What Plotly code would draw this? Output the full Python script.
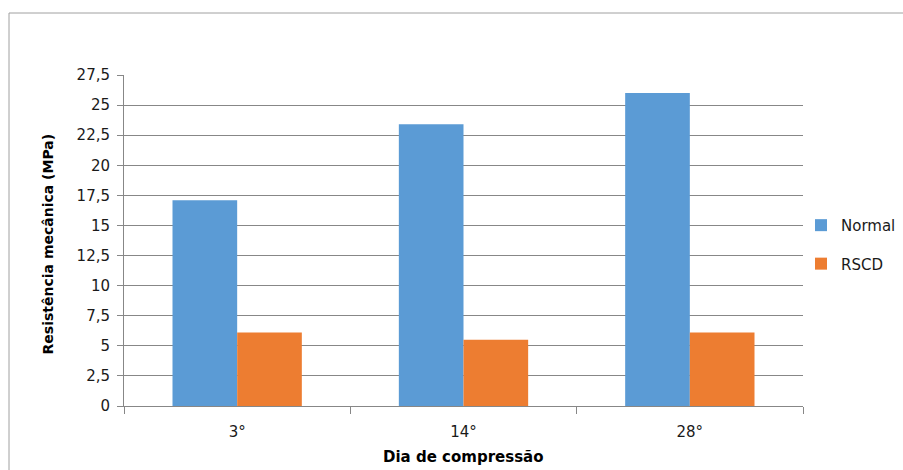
import plotly.graph_objects as go

# Compressive strength by curing day
dias = ["3°", "14°", "28°"]
normal = [17.1, 23.4, 26.0]
rscd = [6.1, 5.5, 6.1]

y_ticks = [0, 2.5, 5, 7.5, 10, 12.5, 15, 17.5, 20, 22.5, 25, 27.5]
y_tick_text = ["0", "2,5", "5", "7,5", "10", "12,5", "15", "17,5", "20", "22,5", "25", "27,5"]

FONT = "DejaVu Sans"
GRID = "#878787"

fig = go.Figure()
fig.add_trace(go.Bar(x=dias, y=normal, name="Normal", marker_color="#5B9BD5",
                     marker_line_width=0, legendgroup="a"))
fig.add_trace(go.Bar(x=dias, y=rscd, name="RSCD", marker_color="#ED7D31",
                     marker_line_width=0, legendgroup="b"))

fig.update_layout(
    width=903, height=470,
    margin=dict(l=124, r=100, t=75, b=64, autoexpand=False),
    paper_bgcolor="white", plot_bgcolor="white",
    barmode="group", bargap=0.4286, bargroupgap=0,
    font=dict(family=FONT, size=15, color="#1a1a1a"),
    showlegend=True,
    legend=dict(xref="container", yref="container", x=801 / 903, y=0.48,
                xanchor="left", yanchor="middle", traceorder="grouped",
                tracegroupgap=16, itemwidth=30,
                font=dict(family=FONT, size=15, color="#1a1a1a"),
                bgcolor="rgba(0,0,0,0)"),
    xaxis=dict(showline=True, linecolor=GRID, linewidth=1,
               ticks="outside", ticklen=7, tickcolor=GRID, tickson="boundaries",
               ticklabelstandoff=12, showgrid=False,
               tickfont=dict(family=FONT, size=15, color="#1a1a1a")),
    yaxis=dict(range=[0, 27.5], tickvals=y_ticks, ticktext=y_tick_text,
               showline=True, linecolor=GRID, linewidth=1,
               ticks="outside", ticklen=6, tickcolor=GRID,
               showgrid=True, gridcolor=GRID, gridwidth=1, zeroline=False,
               ticklabelstandoff=4,
               tickfont=dict(family=FONT, size=15, color="#1a1a1a")),
    annotations=[
        dict(text="<b>Resistência mecânica (MPa)</b>", xref="paper", yref="paper",
             x=-0.1115, y=0.489, textangle=-90, showarrow=False,
             xanchor="center", yanchor="middle",
             font=dict(family=FONT, size=14, color="#000000")),
        dict(text="<b>Dia de compressão</b>", xref="paper", yref="paper",
             x=0.5, y=-0.154, showarrow=False, xanchor="center", yanchor="middle",
             font=dict(family=FONT, size=15, color="#000000")),
    ],
    shapes=[
        # chart frame
        dict(type="rect", xref="paper", yref="paper",
             x0=(9 - 124) / 679, x1=(910 - 124) / 679,
             y0=(406 - 480) / 331, y1=(406 - 13) / 331,
             line=dict(color="#A0A0A0", width=1), fillcolor="rgba(0,0,0,0)",
             layer="below"),
    ],
)

fig.write_html("out.html")
